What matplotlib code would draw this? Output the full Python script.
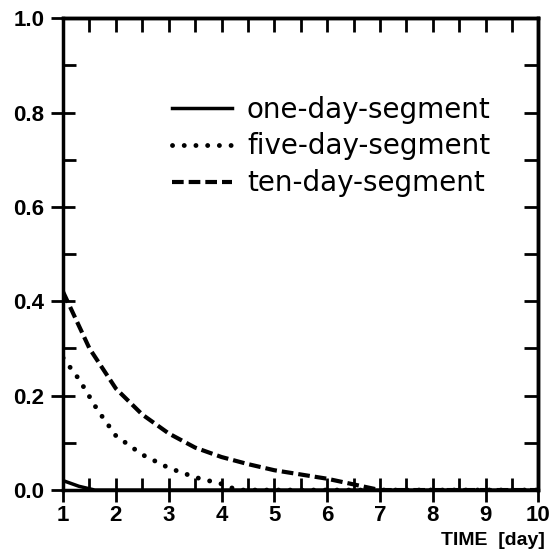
import numpy as np
import matplotlib
matplotlib.use('Agg')
import matplotlib.pyplot as plt
from matplotlib.ticker import MultipleLocator, FormatStrFormatter, NullFormatter

plt.rcParams['font.family'] = ['Liberation Sans', 'DejaVu Sans']

# one-day-segment
t_one = [1.0, 1.3, 1.6, 2.0, 10.0]
y_one = [0.02, 0.008, 0.0, 0.0, 0.0]
# five-day-segment
t_five = [1.0, 1.3, 1.65, 2.0, 2.5, 3.0, 3.5, 4.0, 4.3, 10.0]
y_five = [0.28, 0.235, 0.17, 0.115, 0.075, 0.047, 0.027, 0.013, 0.0, 0.0]
# ten-day-segment
t_ten = [1.0, 1.5, 2.0, 2.5, 3.0, 3.5, 4.0, 4.5, 5.0, 5.5, 6.0, 6.5, 7.0, 10.0]
y_ten = [0.42, 0.3, 0.215, 0.16, 0.12, 0.09, 0.07, 0.055, 0.042, 0.033, 0.024, 0.012, 0.0, 0.0]

fig, ax = plt.subplots(1, 1, figsize=(5.51, 5.50), dpi=100)
fig.subplots_adjust(left=0.1145, right=0.977, top=0.967, bottom=0.109)

ax.plot(t_one, y_one, '-k', linewidth=2.5, label='one-day-segment')
ax.plot(t_five, y_five, color='k', linestyle=(0, (0.01, 2.4)), dash_capstyle='round',
        linewidth=3.5, label='five-day-segment')
ax.plot(t_ten, y_ten, color='k', linestyle=(0, (2.8, 1.2)), linewidth=3, label='ten-day-segment')

ax.set_xlim(1, 10)
ax.set_ylim(0, 1)
ax.xaxis.set_major_locator(MultipleLocator(1))
ax.xaxis.set_minor_locator(MultipleLocator(0.5))
ax.yaxis.set_major_locator(MultipleLocator(0.2))
ax.yaxis.set_minor_locator(MultipleLocator(0.1))
ax.yaxis.set_major_formatter(FormatStrFormatter('%.1f'))
ax.tick_params(which='major', direction='inout', length=17, width=2, labelsize=16, pad=2)
ax.tick_params(axis='y', which='major', pad=5)
ax.tick_params(which='minor', direction='in', length=9, width=2)
for lab in ax.get_xticklabels() + ax.get_yticklabels():
    lab.set_fontweight('bold')
for s in ax.spines.values():
    s.set_linewidth(2.5)

# top and right ticks point inward only
top = ax.secondary_xaxis('top')
top.xaxis.set_major_locator(MultipleLocator(0.5))
top.xaxis.set_major_formatter(NullFormatter())
top.tick_params(direction='in', length=10, width=2)
top.spines['top'].set_linewidth(2.5)
right = ax.secondary_yaxis('right')
right.yaxis.set_major_locator(MultipleLocator(0.1))
right.yaxis.set_major_formatter(NullFormatter())
right.tick_params(direction='in', length=10, width=2)
right.spines['right'].set_linewidth(2.5)

ax.set_xlabel('TIME  [day]', fontweight='bold', fontsize=14)
ax.xaxis.set_label_coords(1.013, -0.117)
ax.xaxis.label.set_horizontalalignment('right')
ax.xaxis.label.set_verticalalignment('baseline')

leg = ax.legend(frameon=False, prop={'family': 'DejaVu Sans', 'size': 20},
                loc='upper left', bbox_to_anchor=(0.229, 0.836),
                handlelength=2.16, handletextpad=0.54, labelspacing=0.32,
                borderaxespad=0, borderpad=0)

fig.savefig('out.png', dpi=100)
